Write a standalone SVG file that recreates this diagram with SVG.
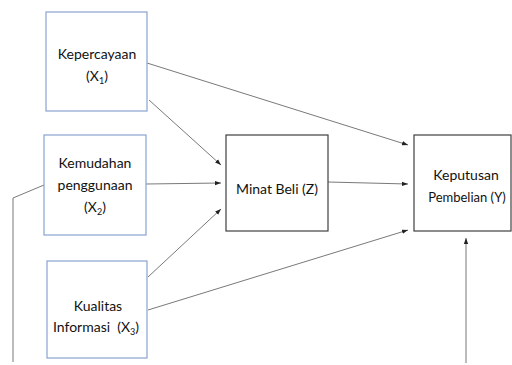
<svg xmlns="http://www.w3.org/2000/svg" width="512" height="365" viewBox="0 0 512 365">
<style>
.bx{fill:#fff;stroke:#8aa3cf;stroke-width:1.2}
.bk{fill:#fff;stroke:#404040;stroke-width:1.2}
.t{font-family:Lato,"Open Sans",sans-serif;font-size:14px;fill:#111;text-anchor:middle;white-space:pre}
.s{font-size:9px}
.c{stroke:#6a6a6a;stroke-width:0.9;fill:none}
</style>
<defs>
<marker id="ah" viewBox="0 0 6 6" refX="6" refY="3" markerWidth="6" markerHeight="6" markerUnits="userSpaceOnUse" orient="auto">
<path d="M0,0.8 L6,3 L0,5.2 Z" fill="#222"/>
</marker>
</defs>
<rect width="512" height="365" fill="#fff"/>
<g id="connectors">
<line class="c" x1="147" y1="63" x2="408" y2="145" marker-end="url(#ah)"/>
<line class="c" x1="149" y1="100" x2="221" y2="165" marker-end="url(#ah)"/>
<line class="c" x1="146" y1="184" x2="221" y2="183" marker-end="url(#ah)"/>
<line class="c" x1="148" y1="277" x2="221" y2="209" marker-end="url(#ah)"/>
<line class="c" x1="148" y1="310" x2="408" y2="230" marker-end="url(#ah)"/>
<line class="c" x1="328" y1="182" x2="408" y2="184" marker-end="url(#ah)"/>
<line class="c" x1="466" y1="363" x2="466" y2="238" marker-end="url(#ah)"/>
<polyline class="c" points="44,185 13,198 13,362"/>
</g>
<g id="x1">
<rect class="bx" x="46" y="12" width="101" height="99"/>
<text class="t" x="97" y="59">Kepercayaan</text>
<text class="t" x="97" y="81">(X<tspan class="s" dy="3">1</tspan><tspan dy="-3">)</tspan></text>
</g>
<g id="x2">
<rect class="bx" x="44" y="135" width="102" height="100"/>
<text class="t" x="95" y="168">Kemudahan</text>
<text class="t" x="95" y="190">penggunaan</text>
<text class="t" x="95" y="212">(X<tspan class="s" dy="3">2</tspan><tspan dy="-3">)</tspan></text>
</g>
<g id="x3">
<rect class="bx" x="47" y="261" width="100" height="97"/>
<text class="t" x="98" y="311">Kualitas</text>
<text class="t" x="96" y="332">Informasi  (X<tspan class="s" dy="3">3</tspan><tspan dy="-3">)</tspan></text>
</g>
<g id="z">
<rect class="bk" x="226" y="135" width="102" height="96"/>
<text class="t" x="277" y="194">Minat Beli (Z)</text>
</g>
<g id="y">
<rect class="bk" x="414" y="135" width="97" height="96"/>
<text class="t" x="466" y="180">Keputusan</text>
<text class="t" x="467" y="202" style="font-size:13px">Pembelian (Y)</text>
</g>
</svg>
